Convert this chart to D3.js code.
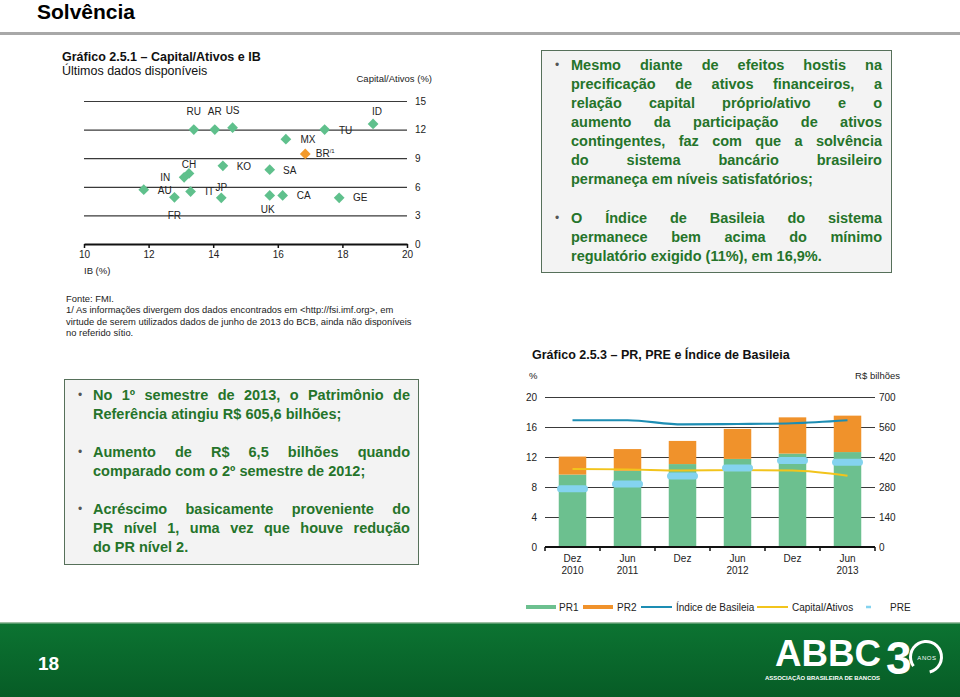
<!DOCTYPE html>
<html>
<head>
<meta charset="utf-8">
<script src="https://cdn.jsdelivr.net/npm/d3@7"></script>
<style>
body { margin: 0; background: #fff; }
#slide { position: relative; width: 960px; height: 697px; overflow: hidden; font-family: "Liberation Sans", Arial, sans-serif; }
#slide svg { position: absolute; left: 0; top: 0; }
.box { position: absolute; background: #f3f3f3; border: 1.5px solid #56705a; box-sizing: border-box; }
.para { position: absolute; color: #25742a; font-weight: bold; font-size: 14.5px; line-height: 19px; }
.ln { display: flex; justify-content: space-between; white-space: nowrap; height: 19px; }
.ln.last { justify-content: flex-start; gap: 0.28em; }
.bullet { position: absolute; color: #555; font-size: 12px; line-height: 19px; }
</style>
</head>
<body>
<div id="slide"></div>
<script>
// Scatter: Capital/Ativos e IB //
const countries = ['RU', 'AR', 'US', 'ID', 'TU', 'MX', 'BR', 'CH', 'IN', 'KO', 'SA', 'AU', 'IT', 'JP', 'FR', 'UK', 'CA', 'GE']
const ibValues = [13.4, 14.05, 14.6, 18.95, 17.45, 16.25, 16.85, 13.25, 13.1, 14.3, 15.75, 11.85, 13.3, 14.25, 12.8, 15.75, 16.15, 17.9]
const capitalValues = [12.0, 12.0, 12.2, 12.6, 12.0, 11.0, 9.45, 7.4, 7.0, 8.2, 7.8, 5.7, 5.5, 4.85, 4.9, 5.1, 5.1, 4.85]
const scatterXTicks = [10, 12, 14, 16, 18, 20]
const scatterYTicks = [0, 3, 6, 9, 12, 15]

// Bars: PR, PRE e Índice de Basileia //
const periods = ['Dez 2010', 'Jun 2011', 'Dez 2011', 'Jun 2012', 'Dez 2012', 'Jun 2013']
const periodLabels = [['Dez', '2010'], ['Jun', '2011'], ['Dez', ''], ['Jun', '2012'], ['Dez', ''], ['Jun', '2013']]
const pr1 = [338, 356, 387, 411, 436, 443]
const pr2 = [84, 101, 108, 140, 169, 170]
const pre = [272, 294, 331, 369, 404, 395]
const basileia = [16.9, 16.9, 16.35, 16.4, 16.5, 16.9]
const capitalAtivos = [10.4, 10.35, 10.2, 10.25, 10.2, 9.5]
const leftTicks = [0, 4, 8, 12, 16, 20]
const rightTicks = [0, 140, 280, 420, 560, 700]

// Text boxes //
const topBoxParas = [
    ['Mesmo diante de efeitos hostis na', 'precificação de ativos financeiros, a', 'relação capital próprio/ativo e o',
     'aumento da participação de ativos', 'contingentes, faz com que a solvência', 'do sistema bancário brasileiro',
     'permaneça em níveis satisfatórios;'],
    ['O Índice de Basileia do sistema', 'permanece bem acima do mínimo', 'regulatório exigido (11%), em 16,9%.'],
]
const bottomBoxParas = [
    ['No 1º semestre de 2013, o Patrimônio de', 'Referência atingiu R$ 605,6 bilhões;'],
    ['Aumento de R$ 6,5 bilhões quando', 'comparado com o 2º semestre de 2012;'],
    ['Acréscimo basicamente proveniente do', 'PR nível 1, uma vez que houve redução', 'do PR nível 2.'],
]
const footnotes = [
    'Fonte: FMI.',
    '1/ As informações divergem dos dados encontrados em <http://fsi.imf.org>, em',
    'virtude de serem utilizados dados de junho de 2013 do BCB, ainda não disponíveis',
    'no referido sítio.',
]

const colors = {
    diamond: '#5fc08c', brazil: '#f39a2b', pr1: '#6cc08f', pr2: '#f0922b',
    basileia: '#1d8db3', capital: '#f2c41c', pre: '#84d3ef', ink: '#222',
}

const slide = d3.select('#slide')
const svg = slide.append('svg').attr('width', 960).attr('height', 697)

// Header //
svg.append('text')
    .attr('x', 37).attr('y', 19)
    .attr('font-size', 21).attr('font-weight', 'bold').attr('fill', '#000')
    .text('Solvência')

svg.append('rect')
    .attr('x', 0).attr('y', 32).attr('width', 960).attr('height', 3)
    .attr('fill', '#a8a8a8')

// Scatter chart //
const drawScatter = () => {
    const g = svg.append('g')
    const x = d3.scaleLinear().domain([10, 20]).range([84, 407])
    const y = d3.scaleLinear().domain([0, 15]).range([244, 101])

    g.append('text').attr('x', 62).attr('y', 61)
        .attr('font-size', 12.5).attr('font-weight', 'bold').attr('fill', '#111')
        .text('Gráfico 2.5.1 – Capital/Ativos e IB')
    g.append('text').attr('x', 62).attr('y', 75)
        .attr('font-size', 12.5).attr('fill', '#111')
        .text('Últimos dados disponíveis')
    g.append('text').attr('x', 432).attr('y', 82).attr('text-anchor', 'end')
        .attr('font-size', 9.5).attr('fill', colors.ink)
        .text('Capital/Ativos (%)')
    g.append('text').attr('x', 84).attr('y', 274)
        .attr('font-size', 9.5).attr('fill', colors.ink)
        .text('IB (%)')

    const yAxis = g.append('g')
        .attr('transform', 'translate(407,0)')
        .call(d3.axisRight(y).tickValues(scatterYTicks).tickSize(-323).tickPadding(8).tickSizeOuter(0))
    yAxis.select('.domain').remove()
    yAxis.selectAll('line').attr('stroke', '#3a3a3a').attr('stroke-width', 1.2)
    yAxis.selectAll('text').attr('font-size', 10).attr('fill', colors.ink).attr('font-family', 'Liberation Sans, Arial')

    const xAxis = g.append('g')
        .attr('transform', 'translate(0,244)')
        .call(d3.axisBottom(x).tickValues(scatterXTicks).tickSize(4).tickPadding(3).tickSizeOuter(0))
    xAxis.select('.domain').attr('stroke', '#111').attr('stroke-width', 2)
    xAxis.selectAll('line').attr('stroke', '#111').attr('stroke-width', 1.5)
    xAxis.selectAll('text').attr('font-size', 10).attr('fill', colors.ink).attr('font-family', 'Liberation Sans, Arial')

    const points = countries.map((c, i) => ({ code: c, ib: ibValues[i], cap: capitalValues[i] }))

    g.selectAll('.diamond')
        .data(points)
        .enter()
        .append('rect')
            .attr('class', 'diamond')
            .attr('x', -3.8).attr('y', -3.8).attr('width', 7.6).attr('height', 7.6)
            .attr('transform', d => `translate(${x(d.ib)},${y(d.cap)}) rotate(45)`)
            .attr('fill', d => d.code === 'BR' ? colors.brazil : colors.diamond)

    // label nudges in px from each diamond
    const nudge = {
        RU: [0, -18], AR: [0, -18], US: [0, -17], ID: [4, -12], TU: [21, 1], MX: [22, 0],
        BR: [20, 0], CH: [0, -9], IN: [-19, 0], KO: [21, 1], SA: [20, 1], AU: [21, 1],
        IT: [19, 0], JP: [0, -10], FR: [0, 18], UK: [-2, 14], CA: [21, 0], GE: [21, 0],
    }

    const labels = g.selectAll('.clabel')
        .data(points)
        .enter()
        .append('text')
            .attr('class', 'clabel')
            .attr('x', d => x(d.ib) + nudge[d.code][0])
            .attr('y', d => y(d.cap) + nudge[d.code][1] + 3.5)
            .attr('text-anchor', 'middle')
            .attr('font-size', 10).attr('fill', colors.ink)
            .text(d => d.code)
    labels.filter(d => d.code === 'BR')
        .append('tspan').attr('dy', -4).attr('font-size', 6).text('/1')

    const notes = g.append('text').attr('font-size', 9.4).attr('fill', colors.ink)
    notes.selectAll('tspan')
        .data(footnotes)
        .enter()
        .append('tspan')
            .attr('x', 66)
            .attr('y', (d, i) => 302 + i * 11.3)
            .text(d => d)
}

// Bar chart //
const drawBars = () => {
    const g = svg.append('g')
    const x = d3.scaleBand().domain(periods).range([545, 875]).paddingInner(0.5).paddingOuter(0.25)
    const yL = d3.scaleLinear().domain([0, 20]).range([547, 397])
    const yR = d3.scaleLinear().domain([0, 700]).range([547, 397])
    const cx = p => x(p) + x.bandwidth() / 2

    g.append('text').attr('x', 532).attr('y', 359)
        .attr('font-size', 12.5).attr('font-weight', 'bold').attr('fill', '#111')
        .text('Gráfico 2.5.3 – PR, PRE e Índice de Basileia')
    g.append('text').attr('x', 529).attr('y', 379)
        .attr('font-size', 9.5).attr('fill', colors.ink).text('%')
    g.append('text').attr('x', 900).attr('y', 379).attr('text-anchor', 'end')
        .attr('font-size', 9.5).attr('fill', colors.ink).text('R$ bilhões')

    const left = g.append('g')
        .attr('transform', 'translate(545,0)')
        .call(d3.axisLeft(yL).tickValues(leftTicks).tickSize(-330).tickPadding(8).tickSizeOuter(0))
    left.select('.domain').remove()
    left.selectAll('line').attr('stroke', '#3a3a3a').attr('stroke-width', 1.2)
    left.selectAll('text').attr('font-size', 10).attr('fill', colors.ink).attr('font-family', 'Liberation Sans, Arial')

    const right = g.append('g')
        .attr('transform', 'translate(875,0)')
        .call(d3.axisRight(yR).tickValues(rightTicks).tickSize(0).tickPadding(4))
    right.select('.domain').remove()
    right.selectAll('text').attr('font-size', 10).attr('fill', colors.ink).attr('font-family', 'Liberation Sans, Arial')

    const rows = periods.map((p, i) => ({ p, pr1: pr1[i], pr2: pr2[i], pre: pre[i], bas: basileia[i], cap: capitalAtivos[i] }))

    g.selectAll('.bar-pr1')
        .data(rows)
        .enter()
        .append('rect')
            .attr('class', 'bar-pr1')
            .attr('x', d => x(d.p)).attr('width', x.bandwidth())
            .attr('y', d => yR(d.pr1)).attr('height', d => yR(0) - yR(d.pr1))
            .attr('fill', colors.pr1)

    g.selectAll('.bar-pr2')
        .data(rows)
        .enter()
        .append('rect')
            .attr('class', 'bar-pr2')
            .attr('x', d => x(d.p)).attr('width', x.bandwidth())
            .attr('y', d => yR(d.pr1 + d.pr2)).attr('height', d => yR(d.pr1) - yR(d.pr1 + d.pr2))
            .attr('fill', colors.pr2)

    // baseline with ticks at band edges
    g.append('line').attr('x1', 545).attr('x2', 875).attr('y1', 547).attr('y2', 547)
        .attr('stroke', '#111').attr('stroke-width', 2)
    g.selectAll('.xtick')
        .data(d3.range(periods.length + 1))
        .enter()
        .append('line')
            .attr('x1', i => 545 + i * x.step()).attr('x2', i => 545 + i * x.step())
            .attr('y1', 547).attr('y2', 551)
            .attr('stroke', '#111').attr('stroke-width', 1.5)

    const line = (acc) => d3.line().x(d => cx(d.p)).y(d => yL(acc(d))).curve(d3.curveMonotoneX)

    g.append('path').datum(rows)
        .attr('d', line(d => d.cap))
        .attr('fill', 'none').attr('stroke', colors.capital).attr('stroke-width', 2)

    g.append('path').datum(rows)
        .attr('d', line(d => d.bas))
        .attr('fill', 'none').attr('stroke', colors.basileia).attr('stroke-width', 2.2)

    g.selectAll('.pre')
        .data(rows)
        .enter()
        .append('line')
            .attr('class', 'pre')
            .attr('x1', d => cx(d.p) - 12).attr('x2', d => cx(d.p) + 12)
            .attr('y1', d => yR(d.pre)).attr('y2', d => yR(d.pre))
            .attr('stroke', colors.pre).attr('stroke-width', 7).attr('stroke-linecap', 'round')

    const xl = g.selectAll('.xlabel')
        .data(rows)
        .enter()
        .append('text')
            .attr('class', 'xlabel')
            .attr('text-anchor', 'middle')
            .attr('font-size', 10).attr('fill', colors.ink)
    xl.append('tspan').attr('x', d => cx(d.p)).attr('y', 562).text((d, i) => periodLabels[i][0])
    xl.append('tspan').attr('x', d => cx(d.p)).attr('y', 574).text((d, i) => periodLabels[i][1])

    // Legend //
    const leg = g.append('g').attr('font-size', 10).attr('fill', colors.ink)
    const swatches = [
        { x: 526, w: 30, h: 4, color: colors.pr1, label: 'PR1', lx: 559 },
        { x: 583, w: 30, h: 4, color: colors.pr2, label: 'PR2', lx: 617 },
        { x: 641, w: 31, h: 2, color: colors.basileia, label: 'Índice de Basileia', lx: 676 },
        { x: 757, w: 31, h: 2, color: colors.capital, label: 'Capital/Ativos', lx: 792 },
        { x: 866, w: 5, h: 2.5, color: colors.pre, label: 'PRE', lx: 890 },
    ]
    leg.selectAll('rect')
        .data(swatches)
        .enter()
        .append('rect')
            .attr('x', d => d.x).attr('y', d => 607 - d.h / 2)
            .attr('width', d => d.w).attr('height', d => d.h)
            .attr('fill', d => d.color)
    leg.selectAll('text')
        .data(swatches)
        .enter()
        .append('text')
            .attr('x', d => d.lx).attr('y', 610.5)
            .text(d => d.label)
}

// Text boxes //
const drawBox = (box, paras, paraTops) => {
    slide.append('div').attr('class', 'box')
        .style('left', box.x + 'px').style('top', box.y + 'px')
        .style('width', box.w + 'px').style('height', box.h + 'px')

    paras.forEach((lines, pi) => {
        slide.append('div').attr('class', 'bullet')
            .style('left', box.bx + 'px').style('top', paraTops[pi] + 'px')
            .text('•')
        const para = slide.append('div').attr('class', 'para')
            .style('left', box.tx + 'px').style('top', paraTops[pi] + 'px')
            .style('width', box.tw + 'px')
        lines.forEach((txt, li) => {
            const row = para.append('div').attr('class', li === lines.length - 1 ? 'ln last' : 'ln')
            row.selectAll('span').data(txt.split(' ')).enter().append('span').text(d => d)
        })
    })
}

// Footer //
const drawFooter = () => {
    const defs = svg.append('defs')
    const grad = defs.append('linearGradient').attr('id', 'foot').attr('x1', 0).attr('x2', 0).attr('y1', 0).attr('y2', 1)
    grad.append('stop').attr('offset', '0%').attr('stop-color', '#0c7432')
    grad.append('stop').attr('offset', '100%').attr('stop-color', '#075c26')

    svg.append('rect').attr('x', 0).attr('y', 622).attr('width', 960).attr('height', 75).attr('fill', 'url(#foot)')
    svg.append('rect').attr('x', 0).attr('y', 622).attr('width', 960).attr('height', 1.5).attr('fill', '#9dbfa3')

    svg.append('text').attr('x', 38).attr('y', 670)
        .attr('font-size', 19).attr('font-weight', 'bold').attr('fill', '#fff')
        .text('18')

    const logo = svg.append('g').attr('fill', '#fff')
    logo.append('text').attr('x', 775).attr('y', 666)
        .attr('font-size', 36).attr('font-weight', 'bold')
        .attr('textLength', 106).attr('lengthAdjust', 'spacingAndGlyphs')
        .text('ABBC')
    logo.append('text').attr('x', 886).attr('y', 674)
        .attr('font-size', 46).attr('font-weight', 'bold')
        .text('3')
    logo.append('path')
        .attr('d', d3.arc()({ innerRadius: 14, outerRadius: 17, startAngle: -2.2, endAngle: 2.9 }))
        .attr('transform', 'translate(926,657)')
    logo.append('text').attr('x', 927).attr('y', 660).attr('text-anchor', 'middle')
        .attr('font-size', 6).attr('letter-spacing', 0.6).text('ANOS')
    logo.append('text').attr('x', 765).attr('y', 680)
        .attr('font-size', 5.6).attr('font-weight', 'bold')
        .attr('textLength', 115).attr('lengthAdjust', 'spacingAndGlyphs')
        .text('ASSOCIAÇÃO BRASILEIRA DE BANCOS')
}

drawScatter()
drawBars()
drawBox({ x: 541, y: 50, w: 351, h: 223, bx: 555, tx: 571, tw: 311 }, topBoxParas, [55.5, 208.5])
drawBox({ x: 64, y: 379, w: 355, h: 186, bx: 78, tx: 93, tw: 317 }, bottomBoxParas, [385.5, 442.5, 499.5])
drawFooter()
</script>
</body>
</html>
